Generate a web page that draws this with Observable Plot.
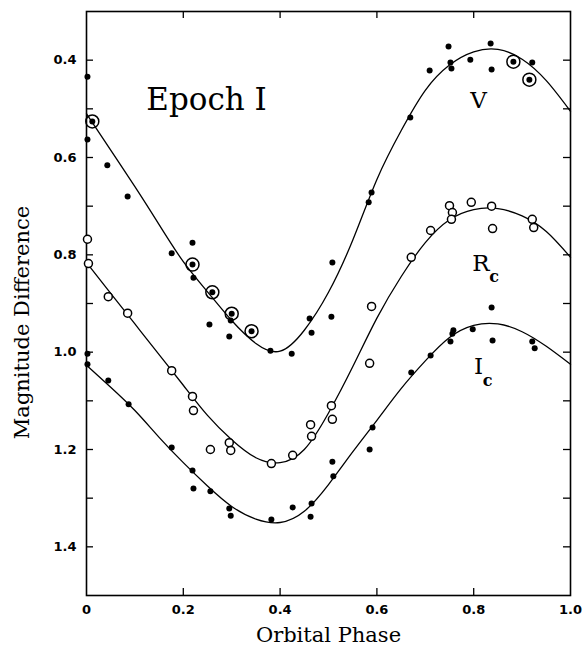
<!DOCTYPE html>
<html><head><meta charset="utf-8">
<script src="https://cdn.jsdelivr.net/npm/d3@7"></script>
<script src="https://cdn.jsdelivr.net/npm/@observablehq/plot@0.6"></script>
<style>body{margin:0;background:#fff}</style>
</head><body><div id="chart"></div>
<script>
// V band (filled dots); ringed points flagged with 1
const vPhase = [0.002,0.012,0.002,0.043,0.085,0.176,0.219,0.219,0.221,0.260,0.254,0.300,0.298,0.295,0.341,0.380,0.424,0.461,0.465,0.506,0.508,0.583,0.589,0.669,0.709,0.748,0.752,0.754,0.793,0.835,0.837,0.882,0.921,0.915];
const vMag   = [0.434,0.526,0.563,0.616,0.680,0.797,0.775,0.820,0.847,0.877,0.943,0.921,0.935,0.968,0.957,0.997,1.003,0.931,0.960,0.927,0.816,0.692,0.672,0.518,0.421,0.372,0.405,0.417,0.399,0.366,0.419,0.403,0.405,0.440];
const vRing  = [0,1,0,0,0,0,0,1,0,1,0,1,0,0,1,0,0,0,0,0,0,0,0,0,0,0,0,0,0,0,0,1,0,1];
// Rc band (open circles)
const rPhase = [0.002,0.004,0.045,0.085,0.176,0.219,0.221,0.256,0.295,0.298,0.382,0.426,0.463,0.465,0.506,0.508,0.585,0.589,0.671,0.711,0.750,0.756,0.754,0.795,0.837,0.839,0.921,0.924];
const rMag   = [0.768,0.818,0.886,0.920,1.038,1.091,1.120,1.200,1.186,1.202,1.229,1.212,1.149,1.173,1.110,1.138,1.023,0.906,0.805,0.750,0.699,0.713,0.727,0.692,0.700,0.746,0.727,0.744];
// Ic band (filled dots)
const iPhase = [0.002,0.002,0.045,0.087,0.176,0.219,0.221,0.256,0.295,0.298,0.382,0.426,0.463,0.465,0.508,0.510,0.585,0.591,0.671,0.711,0.752,0.756,0.758,0.798,0.837,0.839,0.921,0.926];
const iMag   = [1.003,1.025,1.058,1.107,1.196,1.243,1.280,1.286,1.321,1.336,1.344,1.319,1.338,1.311,1.225,1.255,1.200,1.155,1.042,1.007,0.978,0.962,0.955,0.953,0.908,0.976,0.978,0.992];
// fitted light curves
const curvePhase = [0,0.05,0.1,0.15,0.2,0.25,0.3,0.35,0.4,0.45,0.5,0.55,0.6,0.65,0.7,0.75,0.8,0.85,0.9,0.95,1.0];
const vCurve = [0.510,0.585,0.660,0.738,0.814,0.876,0.935,0.982,0.998,0.955,0.877,0.770,0.645,0.545,0.462,0.410,0.383,0.378,0.398,0.442,0.505];
const rCurve = [0.816,0.879,0.942,1.005,1.068,1.130,1.180,1.217,1.227,1.200,1.125,1.030,0.930,0.845,0.775,0.728,0.707,0.705,0.720,0.752,0.805];
const iCurve = [1.027,1.072,1.120,1.175,1.227,1.275,1.317,1.343,1.350,1.327,1.272,1.205,1.140,1.075,1.018,0.970,0.945,0.942,0.958,0.988,1.025];
// axes
const xTicks = [0,0.2,0.4,0.6,0.8,1.0];
const xInnerTicks = [0.2,0.4,0.6,0.8];
const yTicks = [0.4,0.6,0.8,1.0,1.2,1.4];
const yInnerTicks = [0.4,0.5,0.6,0.7,0.8,0.9,1.0,1.1,1.2,1.3,1.4];
// annotations
const bandLabels = [{t:"V",x:0.81,y:0.483},{t:"R",x:0.815,y:0.818},{t:"I",x:0.81,y:1.03}];
const subLabels = [{t:"c",x:0.842,y:0.846},{t:"c",x:0.829,y:1.058}];
const title = [{t:"Epoch I",x:0.248,y:0.483}];

const pts = (ph, mg) => ph.map((p, i) => ({phase: p, mag: mg[i], i}));
const V = pts(vPhase, vMag);
const Vr = V.filter(d => vRing[d.i]);
const R = pts(rPhase, rMag);
const I = pts(iPhase, iMag);
const curves = [["V", vCurve], ["R", rCurve], ["I", iCurve]].flatMap(([k, c]) => curvePhase.map((p, j) => ({band: k, phase: p, mag: c[j]})));

const plotW = 583 - 86 - 13, plotH = 648 - 11 - 53, tl = 7;
const serif = "DejaVu Serif";
const chart = Plot.plot({
  width: 583, height: 648,
  marginLeft: 86, marginRight: 13, marginTop: 11, marginBottom: 53,
  style: {background: "#fff", color: "#000"},
  x: {domain: [0, 1]},
  y: {domain: [0.3, 1.5], reverse: true},
  marks: [
    Plot.frame({stroke: "#000", strokeWidth: 1.6}),
    Plot.tickY(yInnerTicks, {y: d => d, insetRight: plotW - tl, stroke: "#000", strokeWidth: 1.3}),
    Plot.tickY(yInnerTicks, {y: d => d, insetLeft: plotW - tl, stroke: "#000", strokeWidth: 1.3}),
    Plot.tickX(xInnerTicks, {x: d => d, insetBottom: plotH - tl, stroke: "#000", strokeWidth: 1.3}),
    Plot.tickX(xInnerTicks, {x: d => d, insetTop: plotH - tl, stroke: "#000", strokeWidth: 1.3}),
    Plot.axisY(yTicks, {tickSize: 0, tickPadding: 10, tickFormat: d => d.toFixed(1), fontSize: 13, fontWeight: "bold", fontFamily: "DejaVu Sans", label: null}),
    Plot.axisX(xTicks, {tickSize: 0, tickPadding: 9, tickFormat: d => d === 0 ? "0" : d.toFixed(1), fontSize: 13, fontWeight: "bold", fontFamily: "DejaVu Sans", label: null}),
    Plot.text(["Magnitude Difference"], {frameAnchor: "left", textAnchor: "middle", rotate: -90, dx: -64, dy: 19, fontSize: 21, fontFamily: serif, fill: "#000"}),
    Plot.text(["Orbital Phase"], {frameAnchor: "bottom", textAnchor: "middle", dy: 46, fontSize: 21, fontFamily: serif, fill: "#000"}),
    Plot.line(curves, {x: "phase", y: "mag", z: "band", curve: "natural", stroke: "#000", strokeWidth: 1.3}),
    Plot.dot(R, {x: "phase", y: "mag", r: 4, stroke: "#000", strokeWidth: 1.5, fill: "#fff"}),
    Plot.dot(V, {x: "phase", y: "mag", r: 3, fill: "#000"}),
    Plot.dot(Vr, {x: "phase", y: "mag", r: 6.5, stroke: "#000", strokeWidth: 1.5, fill: "none"}),
    Plot.dot(I, {x: "phase", y: "mag", r: 3, fill: "#000"}),
    Plot.text(title, {x: "x", y: "y", text: "t", fontSize: 31, fontFamily: serif, fill: "#000"}),
    Plot.text(bandLabels, {x: "x", y: "y", text: "t", fontSize: 23, fontFamily: serif, fill: "#000"}),
    Plot.text(subLabels, {x: "x", y: "y", text: "t", fontSize: 16, fontFamily: serif, fontWeight: "bold", fill: "#000"})
  ]
});
document.getElementById("chart").appendChild(chart);
</script>
</body></html>
